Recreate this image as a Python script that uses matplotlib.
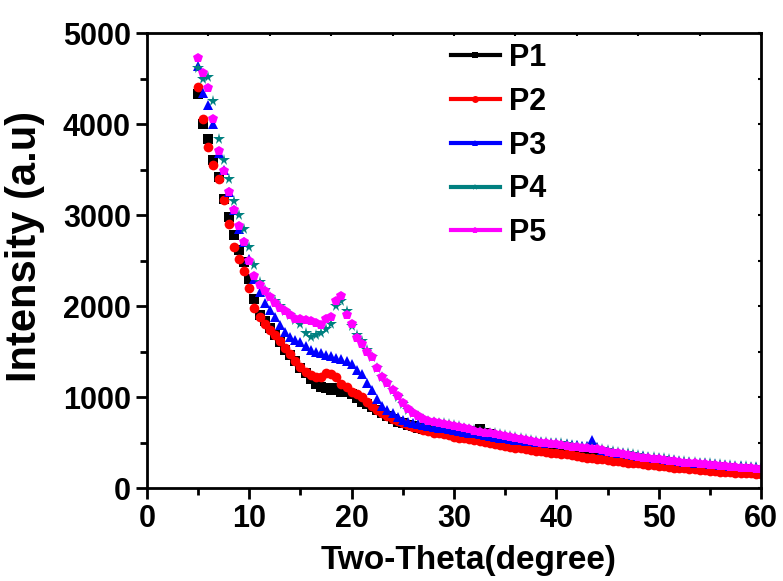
import numpy as np
import matplotlib
matplotlib.use("Agg")
import matplotlib.pyplot as plt
from matplotlib.ticker import MultipleLocator
from matplotlib.lines import Line2D

plt.rcParams['font.family'] = ['Liberation Sans', 'DejaVu Sans']
plt.rcParams['font.weight'] = 'bold'

# 2-theta grid (degrees), one reading every 0.5 deg
two_theta = np.arange(5, 60.25, 0.5)

p1 = [4330, 4000, 3830, 3600, 3420, 3180, 2980, 2780, 2620, 2480,
      2300, 2080, 1900, 1830, 1760, 1680, 1600, 1520, 1460, 1400,
      1320, 1260, 1200, 1140, 1110, 1100, 1080, 1100, 1060, 1050,
      1030, 990, 950, 920, 890, 860, 820, 790, 760, 730,
      710, 690, 680, 665, 650, 640, 630, 620, 615, 610,
      610, 605, 600, 610, 630, 650, 610, 590, 570, 555,
      545, 530, 515, 505, 495, 485, 475, 470, 460, 455,
      445, 435, 425, 415, 405, 400, 390, 380, 370, 365,
      355, 345, 340, 330, 320, 315, 305, 300, 290, 285,
      280, 270, 265, 260, 255, 245, 240, 235, 230, 225,
      220, 215, 210, 205, 205, 200, 195, 195, 190, 190,
      185]

p2 = [4410, 4050, 3750, 3550, 3400, 3170, 2900, 2650, 2520, 2380,
      2200, 1980, 1880, 1800, 1740, 1680, 1620, 1540, 1470, 1400,
      1330, 1280, 1240, 1220, 1220, 1260, 1250, 1220, 1140, 1110,
      1060, 1030, 1000, 950, 900, 860, 820, 790, 760, 735,
      710, 690, 670, 655, 640, 625, 610, 600, 590, 580,
      565, 555, 545, 535, 530, 515, 505, 495, 485, 470,
      460, 455, 445, 440, 430, 420, 410, 405, 395, 390,
      385, 375, 370, 360, 350, 345, 335, 330, 320, 315,
      310, 300, 295, 290, 280, 275, 270, 260, 255, 250,
      245, 240, 235, 225, 220, 215, 210, 205, 200, 195,
      190, 185, 180, 175, 175, 170, 165, 160, 160, 155,
      150]

p3 = [4640, 4340, 4210, 4000, 3680, 3500, 3250, 3050, 2850, 2700,
      2520, 2300, 2150, 2030, 1960, 1880, 1790, 1720, 1660, 1630,
      1600, 1560, 1520, 1500, 1480, 1460, 1450, 1430, 1420, 1400,
      1360, 1300, 1250, 1150, 1080, 980, 900, 860, 820, 780,
      750, 730, 720, 700, 690, 680, 670, 665, 655, 645,
      640, 630, 620, 610, 600, 590, 580, 570, 560, 550,
      545, 540, 530, 525, 520, 515, 510, 505, 500, 495,
      490, 485, 480, 475, 470, 465, 460, 530, 450, 420,
      410, 400, 390, 380, 370, 365, 355, 350, 340, 335,
      325, 320, 310, 305, 300, 290, 285, 280, 275, 270,
      265, 260, 255, 250, 245, 245, 240, 235, 235, 230,
      225]

p4 = [4610, 4500, 4520, 4250, 3830, 3600, 3400, 3150, 3000, 2850,
      2650, 2450, 2260, 2180, 2100, 2050, 2000, 1950, 1900, 1850,
      1800, 1700, 1660, 1680, 1700, 1750, 1800, 2000, 2060, 1950,
      1780, 1680, 1620, 1520, 1440, 1320, 1220, 1150, 1080, 1000,
      920, 860, 820, 790, 760, 740, 730, 720, 710, 700,
      690, 680, 660, 650, 640, 630, 620, 610, 600, 590,
      580, 570, 560, 550, 540, 530, 520, 510, 505, 500,
      495, 490, 480, 470, 460, 455, 450, 440, 435, 430,
      420, 410, 400, 390, 380, 370, 360, 355, 345, 340,
      330, 325, 315, 310, 300, 295, 290, 285, 280, 275,
      270, 265, 260, 255, 250, 245, 240, 240, 235, 230,
      225]

p5 = [4720, 4560, 4400, 4050, 3700, 3480, 3250, 3050, 2880, 2700,
      2500, 2330, 2230, 2170, 2100, 2030, 1980, 1940, 1900, 1860,
      1860, 1850, 1840, 1810, 1790, 1860, 1880, 2050, 2110, 1900,
      1800, 1650, 1580, 1500, 1440, 1320, 1220, 1150, 1080, 1010,
      930, 870, 820, 790, 760, 740, 730, 715, 705, 695,
      685, 670, 655, 645, 630, 620, 610, 600, 590, 580,
      570, 560, 550, 540, 530, 520, 510, 500, 495, 485,
      480, 470, 465, 455, 450, 445, 440, 430, 425, 415,
      400, 390, 380, 370, 360, 350, 345, 335, 330, 320,
      315, 310, 300, 295, 290, 280, 275, 270, 265, 260,
      255, 250, 245, 240, 235, 230, 225, 220, 215, 210,
      205]

labels = ["P1", "P2", "P3", "P4", "P5"]
colors = ["black", "red", "blue", "#008080", "magenta"]
markers = ["s", "o", "^", "*", "p"]
msizes = [6.5, 7, 7, 8.5, 7.5]

fig = plt.figure(figsize=(7.83, 5.81), dpi=100)
ax = fig.add_axes([0.1877, 0.160, 0.7843, 0.7832])

handles = []
for y, lab, c, m, ms in zip([p1, p2, p3, p4, p5], labels, colors, markers, msizes):
    ax.plot(two_theta, y, linestyle='none', color=c, marker=m, markersize=ms,
            markeredgewidth=0)
    handles.append(Line2D([], [], color=c, lw=3, marker=m, markersize=5,
                          markeredgewidth=0, label=lab))

ax.set_xlim(0, 60)
ax.set_ylim(0, 5000)
ax.xaxis.set_major_locator(MultipleLocator(10))
ax.xaxis.set_minor_locator(MultipleLocator(5))
ax.yaxis.set_major_locator(MultipleLocator(1000))
ax.yaxis.set_minor_locator(MultipleLocator(500))
ax.tick_params(which='major', length=8, width=2, labelsize=22, direction='out')
ax.tick_params(which='minor', length=5, width=2, direction='out')
for s in ax.spines.values():
    s.set_linewidth(2)
for t in ax.get_xticklabels() + ax.get_yticklabels():
    t.set_fontweight('bold')

# faint ticks on top and right spines
top = ax.secondary_xaxis('top')
top.xaxis.set_major_locator(MultipleLocator(6))
top.tick_params(direction='in', length=2, width=1.5, labeltop=False)
right = ax.secondary_yaxis('right')
right.yaxis.set_major_locator(MultipleLocator(500))
right.tick_params(direction='in', length=2, width=1.5, labelright=False)

ax.set_xlabel("Two-Theta(degree)", fontsize=24, fontweight='bold')
ax.set_ylabel("Intensity (a.u)", fontsize=30, fontweight='bold')
ax.xaxis.set_label_coords(0.523, -0.125)
ax.yaxis.set_label_coords(-0.166, 0.532)

leg = ax.legend(handles=handles, loc='upper left', bbox_to_anchor=(0.495, 0.978),
                frameon=False, fontsize=22, handlelength=1.6, handletextpad=0.3,
                labelspacing=0.45, borderpad=0, borderaxespad=0, numpoints=1)
for t in leg.get_texts():
    t.set_fontweight('bold')

fig.savefig("out.png", dpi=100)
